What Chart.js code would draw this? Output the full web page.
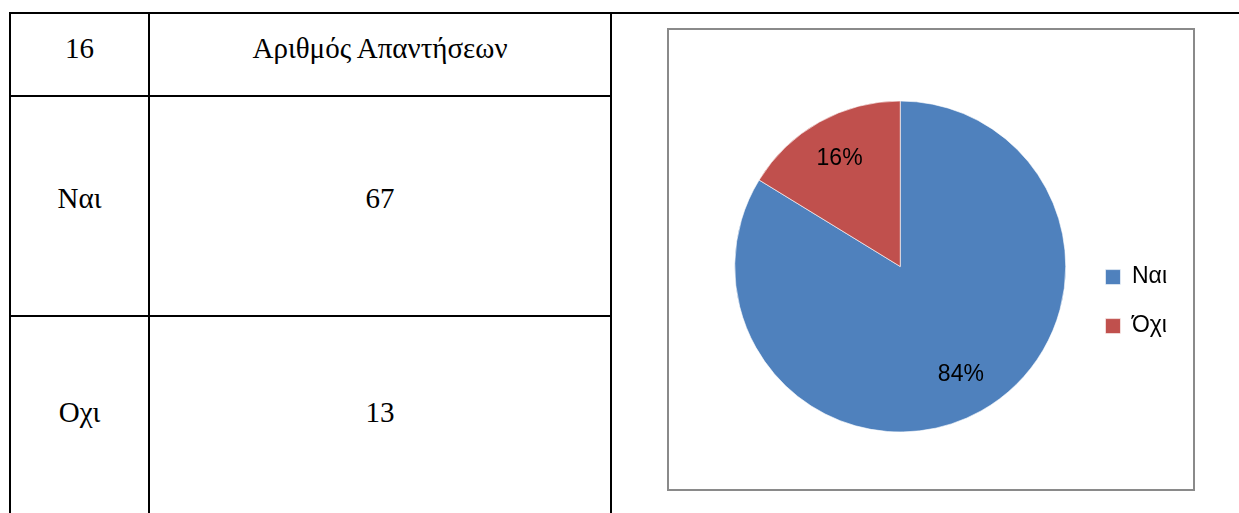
<!DOCTYPE html>
<html>
<head>
<meta charset="utf-8">
<script src="https://cdn.jsdelivr.net/npm/chart.js@4.4.1/dist/chart.umd.min.js"></script>
<style>
  html, body { margin: 0; padding: 0; background: #fff; }
  body { width: 1239px; height: 513px; position: relative; overflow: hidden; }
  .ln { position: absolute; background: #000; }
  .cell { position: absolute; text-align: center; font-family: "Liberation Serif", "Times New Roman", serif; font-size: 29px; color: #000; line-height: 32px; }
  #box { position: absolute; left: 667px; top: 28px; width: 528px; height: 463px; box-sizing: border-box; border: 2px solid #8a8a8a; background: #fff; }
  #wrap { position: absolute; left: 0; top: 0; width: 524px; height: 459px; }
</style>
</head>
<body>
<div id="table"></div>
<div id="box"><div id="wrap"><canvas id="c"></canvas></div></div>
<script>
// ---- data ----
const headerLabels = ['16', 'Αριθμός Απαντήσεων'];
const tableLabels = ['Ναι', 'Οχι'];
const legendLabels = ['Ναι', 'Όχι'];
const counts = [67, 13];
const sliceColors = ['#4F81BD', '#C0504D'];

// ---- table (lines + text) ----
const t = document.getElementById('table');
function line(x, y, w, h) {
  const d = document.createElement('div');
  d.className = 'ln';
  d.style.left = x + 'px'; d.style.top = y + 'px';
  d.style.width = w + 'px'; d.style.height = h + 'px';
  t.appendChild(d);
}
line(9, 12, 1230, 2);     // top rule across page
line(9, 12, 2, 501);      // left
line(148, 12, 2, 501);    // column separator
line(610, 12, 2, 501);    // right
line(9, 95, 603, 2);      // after header
line(9, 315, 603, 2);     // after first row
function cell(text, x0, x1, cy) {
  const d = document.createElement('div');
  d.className = 'cell';
  d.style.left = x0 + 'px'; d.style.width = (x1 - x0) + 'px';
  d.style.top = (cy - 16) + 'px';
  d.textContent = text;
  t.appendChild(d);
}
const rowCenters = [48, 198, 412];
cell(headerLabels[0], 11, 148, rowCenters[0]);
cell(headerLabels[1], 150, 610, rowCenters[0]);
tableLabels.forEach((lab, i) => {
  cell(lab, 11, 148, rowCenters[i + 1]);
  cell(String(counts[i]), 150, 610, rowCenters[i + 1]);
});

// ---- pie chart ----
const pctLabels = {
  id: 'pctLabels',
  afterDatasetsDraw(chart) {
    const ctx = chart.ctx;
    const data = chart.data.datasets[0].data;
    const total = data.reduce((a, b) => a + b, 0);
    const meta = chart.getDatasetMeta(0);
    ctx.save();
    ctx.font = '23px "Liberation Sans", Arial, sans-serif';
    ctx.fillStyle = '#000';
    ctx.textAlign = 'center';
    ctx.textBaseline = 'middle';
    meta.data.forEach((arc, i) => {
      const p = arc.getProps(['x', 'y', 'startAngle', 'endAngle', 'outerRadius'], true);
      const mid = (p.startAngle + p.endAngle) / 2;
      const r = p.outerRadius * 0.75;
      const txt = Math.round(data[i] / total * 100) + '%';
      ctx.fillText(txt, p.x + Math.cos(mid) * r, p.y + Math.sin(mid) * r);
    });
    ctx.restore();
  }
};

new Chart(document.getElementById('c'), {
  type: 'pie',
  data: {
    labels: legendLabels,
    datasets: [{
      data: counts,
      backgroundColor: sliceColors,
      borderColor: 'rgba(255,255,255,0.6)',
      borderWidth: 1
    }]
  },
  options: {
    responsive: true,
    maintainAspectRatio: false,
    animation: false,
    layout: { padding: { left: 52, right: 16, top: 70.5, bottom: 56.5 } },
    plugins: {
      tooltip: { enabled: false },
      legend: {
        position: 'right',
        align: 'center',
        title: { display: true, text: ' ', font: { size: 1 }, padding: { top: 69, bottom: 0 } },
        labels: {
          boxWidth: 15,
          boxHeight: 15,
          padding: 26,
          color: '#000',
          font: { family: '"Liberation Sans", Arial, sans-serif', size: 23 }
        }
      }
    }
  },
  plugins: [pctLabels]
});
</script>
</body>
</html>
